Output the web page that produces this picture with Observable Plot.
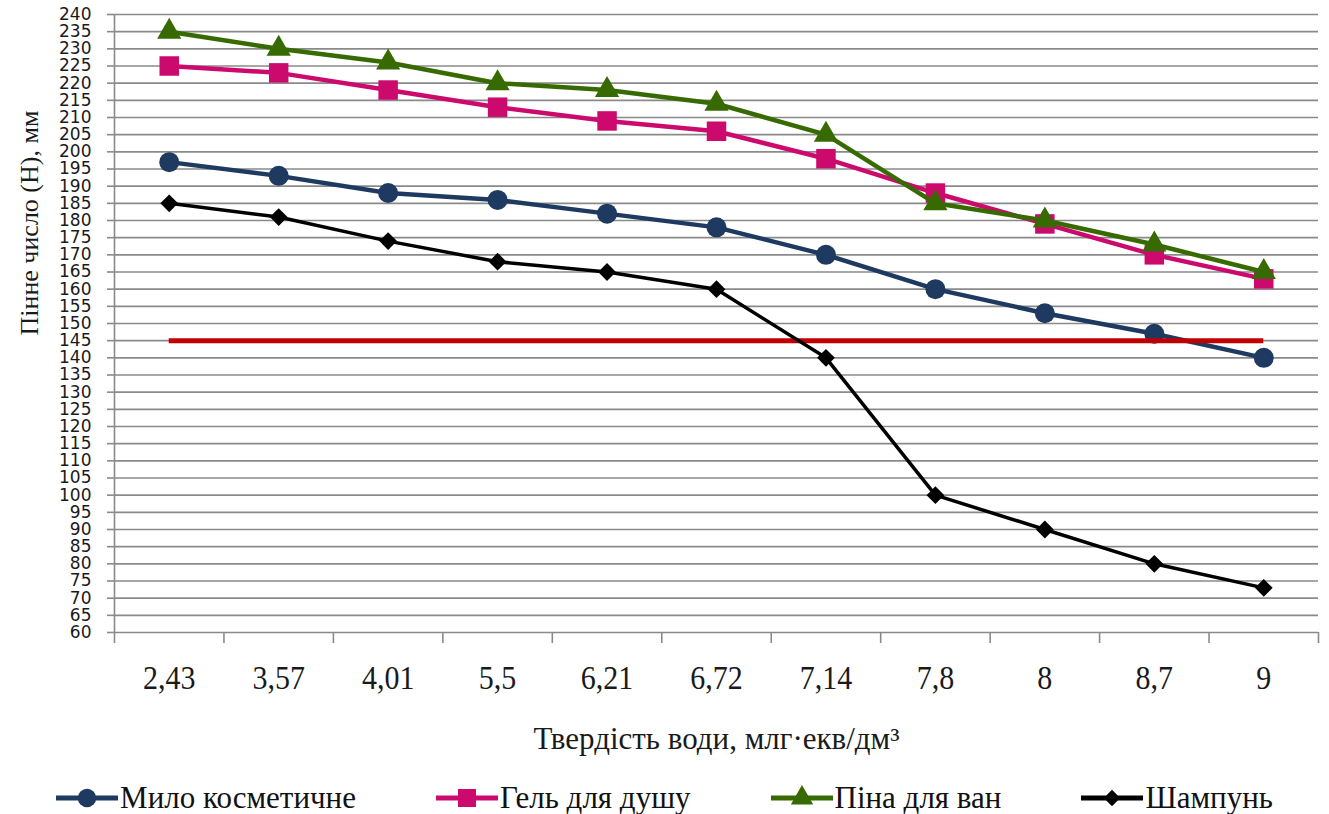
<!DOCTYPE html>
<html>
<head>
<meta charset="utf-8">
<script src="https://cdn.jsdelivr.net/npm/d3@7"></script>
<script src="https://cdn.jsdelivr.net/npm/@observablehq/plot@0.6"></script>
<style>
  body { margin: 0; background: #fff; }
  #legend {
    display: flex; justify-content: center; align-items: center; gap: 80px;
    height: 44px; margin-top: 6px;
    font-family: "Liberation Serif", "Times New Roman", serif;
    font-size: 31px; color: #111;
  }
  #legend .item { display: flex; align-items: center; }
  #legend .item svg { margin-right: 2px; }
</style>
</head>
<body>
<div id="chart"></div>
<div id="legend"></div>
<script>
// Water hardness, mg-eq/dm³ (category labels along the x axis)
const hardness = ["2,43", "3,57", "4,01", "5,5", "6,21", "6,72", "7,14", "7,8", "8", "8,7", "9"];

// Foam number (H), mm, for each product
const soap    = [197, 193, 188, 186, 182, 178, 170, 160, 153, 147, 140];
const gel     = [225, 223, 218, 213, 209, 206, 198, 188, 179, 170, 163];
const bath    = [235, 230, 226, 220, 218, 214, 205, 185, 180, 173, 165];
const shampoo = [185, 181, 174, 168, 165, 160, 140, 100, 90, 80, 73];

// Minimum acceptable foam number
const normLevel = 145;

// Y axis tick values
const yTicks = d3.range(60, 241, 5);

const serif = "'Liberation Serif', 'Times New Roman', serif";
const gridColor = "#8a8a8a";

const series = [
  {name: "Мило косметичне", values: soap,    color: "#1f3a60", symbol: "circle",   r: 10,  width: 4.5},
  {name: "Гель для душу",   values: gel,     color: "#cc0a6e", symbol: "square",   r: 11,  width: 4.5},
  {name: "Піна для ван",    values: bath,    color: "#376b02", symbol: "triangle", r: 9,   width: 4.5},
  {name: "Шампунь",         values: shampoo, color: "#000000", symbol: "diamond2", r: 8,   width: 3.5}
];

const idx = hardness.map((_, i) => i);
const bounds = [...idx.map(i => i - 0.5), idx.length - 0.5];
const rowsOf = s => s.values.map((v, i) => ({i, v}));

function seriesMarks(s) {
  const rows = rowsOf(s);
  return [
    Plot.line(rows, {x: "i", y: "v", stroke: s.color, strokeWidth: s.width}),
    Plot.dot(rows, {x: "i", y: "v", symbol: () => s.symbol, r: s.r, fill: s.color, stroke: "none"})
  ];
}

const chart = Plot.plot({
  width: 1329,
  height: 770,
  marginTop: 14,
  marginBottom: 138,
  marginLeft: 114,
  marginRight: 11,
  x: {type: "linear", domain: [-0.5, hardness.length - 0.5]},
  y: {domain: [60, 240]},
  symbol: {type: "identity"},
  marks: [
    Plot.gridY(yTicks, {stroke: gridColor, strokeOpacity: 1, strokeWidth: 1.6}),
    Plot.ruleX([-0.5], {stroke: gridColor, strokeWidth: 1.6}),
    Plot.axisY(yTicks, {
      tickSize: 7, tickPadding: 16, stroke: gridColor, strokeWidth: 1.6,
      fontSize: 17, fontFamily: "DejaVu Sans, sans-serif", fill: "#1a1a1a", label: null
    }),
    Plot.axisX(bounds, {tickSize: 11, tickFormat: () => "", stroke: gridColor, strokeWidth: 1.6, label: null}),
    Plot.axisX(idx, {
      tickSize: 0, tickPadding: 32, tickFormat: i => hardness[i],
      fontSize: 30, fontFamily: serif, fill: "#1a1a1a", label: null
    }),
    Plot.text(["Твердість води, млг·екв/дм³"], {
      frameAnchor: "bottom", lineAnchor: "bottom", dy: 116,
      fontSize: 31, fontFamily: serif, fill: "#1a1a1a"
    }),
    Plot.text(["Пінне число (Н), мм"], {
      frameAnchor: "left", rotate: -90, dx: -85, dy: 12,
      fontSize: 26, fontFamily: serif, fill: "#1a1a1a"
    }),
    ...seriesMarks(series[0]),
    Plot.ruleY([normLevel], {x1: 0, x2: hardness.length - 1, stroke: "#c00000", strokeWidth: 5}),
    ...seriesMarks(series[1]),
    ...seriesMarks(series[2]),
    ...seriesMarks(series[3])
  ]
});

// Slightly taller glyphs for the hardness labels
chart.querySelectorAll('g[aria-label="x-axis tick label"] text').forEach(t => {
  t.setAttribute("transform", (t.getAttribute("transform") || "") + " scale(1,1.15)");
});

document.getElementById("chart").appendChild(chart);

// Legend: line swatch with the series marker, then the name
const legend = d3.select("#legend");
for (const s of series) {
  const item = legend.append("div").attr("class", "item");
  const sw = item.append("svg").attr("width", 62).attr("height", 26);
  sw.append("line").attr("x1", 0).attr("x2", 62).attr("y1", 13).attr("y2", 13)
    .attr("stroke", s.color).attr("stroke-width", 5);
  const sym = {circle: d3.symbolCircle, square: d3.symbolSquare, triangle: d3.symbolTriangle, diamond2: d3.symbolDiamond2}[s.symbol];
  sw.append("path").attr("transform", "translate(31,13)")
    .attr("d", d3.symbol(sym, Math.PI * s.r * s.r * 0.85)())
    .attr("fill", s.color);
  item.append("span").text(s.name);
}
</script>
</body>
</html>
